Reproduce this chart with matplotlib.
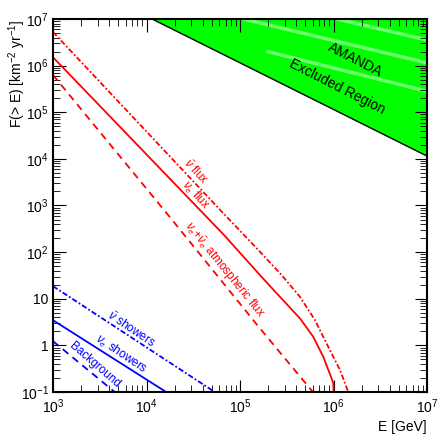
import numpy as np
import matplotlib.pyplot as plt

plt.rcParams['font.family'] = ['Liberation Sans', 'DejaVu Sans']
plt.rcParams['mathtext.fontset'] = 'custom'
plt.rcParams['mathtext.rm'] = 'Liberation Sans'
plt.rcParams['mathtext.it'] = 'Liberation Sans:italic'
plt.rcParams['mathtext.bf'] = 'Liberation Sans:bold'

# curves, as log10(E/GeV) and log10(F(>E))
nubar_E = [3.0, 4.79, 5.214, 5.446, 5.642, 5.802, 5.944, 6.07, 6.158]
nubar_F = [6.72, 2.90, 2.007, 1.506, 1.04, 0.541, -0.032, -0.53, -1.0]
nue_E = [3.0, 4.83, 5.214, 5.428, 5.642, 5.784, 5.891, 5.98, 5.998, 6.0]
nue_F = [6.18, 2.365, 1.506, 1.04, 0.577, 0.182, -0.246, -0.71, -0.82, -1.0]
atm_E = [3.0, 4.25, 5.214, 5.78]
atm_F = [5.80, 2.75, 0.363, -1.0]
shw_nubar_E = [3.0, 4.73]
shw_nubar_F = [1.27, -1.0]
shw_nue_E = [3.0, 4.21]
shw_nue_F = [0.54, -1.0]
bkg_E = [3.0, 3.66]
bkg_F = [0.09, -1.0]
amanda_E = [4.06, 7.0]
amanda_F = [7.0, 4.06]

xticks = [1e3, 1e4, 1e5, 1e6, 1e7]
xticklabels = ['$10^{3}$', '$10^{4}$', '$10^{5}$', '$10^{6}$', '$10^{7}$']
yticks = [1e-1, 1, 10, 1e2, 1e3, 1e4, 1e5, 1e6, 1e7]
yticklabels = ['$10^{-1}$', '1', '10', '$10^{2}$', '$10^{3}$', '$10^{4}$',
               '$10^{5}$', '$10^{6}$', '$10^{7}$']

def p(a):
    return 10 ** np.array(a)

fig = plt.figure(figsize=(4.48, 4.36), dpi=100)
ax = fig.add_axes([53/448, 1-392/436, 374/448, 373/436])
ax.set_xscale('log')
ax.set_yscale('log')

# AMANDA excluded region
poly = ax.fill_between(p(amanda_E), p(amanda_F), 1e7, color='#00ff00', lw=0, zorder=1)
ax.plot(p(amanda_E), p(amanda_F), color='black', lw=1, zorder=2)
# lighter streaks in the hatching
for se, sf in [([5.04, 7.0], [7.0, 6.06]), ([6.04, 7.0], [7.0, 6.55]), ([5.3, 7.0], [6.3, 5.45])]:
    l, = ax.plot(p(se), p(sf), color='#9cff9c', lw=2.5, alpha=0.7, zorder=1.5)
    l.set_clip_path(poly.get_paths()[0], ax.transData)

dashdot = (0, (3, 1.2, 1, 1.2))
ax.plot(p(nubar_E), p(nubar_F), color='red', lw=1.3, ls=dashdot)
ax.plot(p(nue_E), p(nue_F), color='red', lw=1.3)
ax.plot(p(atm_E), p(atm_F), color='red', lw=1.3, ls=(0, (4, 3)))
ax.plot(p(shw_nubar_E), p(shw_nubar_F), color='blue', lw=1.3, ls=dashdot)
ax.plot(p(shw_nue_E), p(shw_nue_F), color='blue', lw=1.3)
ax.plot(p(bkg_E), p(bkg_F), color='blue', lw=1.3, ls=(0, (4, 3)))

kw = dict(ha='center', va='center', rotation_mode='anchor', fontsize=8.5)
ax.text(10**4.52, 10**3.72, r'$\bar{\nu}$ flux', color='red', rotation=-47, **kw)
ax.text(10**4.52, 10**3.22, r'$\nu_e$ flux', color='red', rotation=-47, **kw)
ax.text(10**4.83, 10**1.61, r'$\nu_e$+$\bar{\nu}_e$ atmospheric flux', color='red', rotation=-51, **kw)
ax.text(10**3.83, 10**0.35, r'$\bar{\nu}$ showers', color='blue', rotation=-34, **kw)
ax.text(10**3.73, 10**-0.19, r'$\nu_e$ showers', color='blue', rotation=-34, **kw)
ax.text(10**3.45, 10**-0.42, 'Background', color='blue', rotation=-41, **kw)
kw['fontsize'] = 10
ax.text(10**6.23, 10**6.12, 'AMANDA', color='black', rotation=-27, **kw)
ax.text(10**6.04, 10**5.54, 'Excluded Region', color='black', rotation=-27, **kw)

ax.set_xlim(1e3, 1e7)
ax.set_ylim(1e-1, 1e7)
ax.set_xticks(xticks)
ax.set_xticklabels(xticklabels)
ax.set_yticks(yticks)
ax.set_yticklabels(yticklabels)
ax.tick_params(which='both', direction='in', top=True, right=True, labelsize=10)
ax.tick_params(which='major', length=9, width=0.8)
ax.tick_params(which='minor', length=5, width=0.6)
ax.tick_params(axis='x', pad=4)
ax.tick_params(axis='y', pad=3)
for s in ax.spines.values():
    s.set_linewidth(1.5)
ax.set_xlabel('E [GeV]', loc='right', fontsize=10)
ax.set_ylabel(r'F(> E) [km$^{-2}$ yr$^{-1}$]', loc='top', fontsize=10)
ax.yaxis.set_label_coords(-0.068, 1.0)
ax.xaxis.set_label_coords(1.0, -0.075)

fig.savefig('out.png', dpi=100)
